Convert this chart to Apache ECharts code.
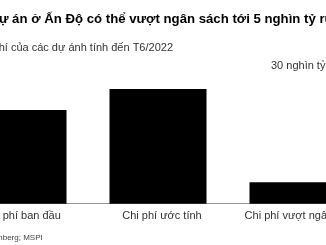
<!DOCTYPE html>
<html>
<head>
<meta charset="utf-8">
<script src="https://cdn.jsdelivr.net/npm/echarts@6/dist/echarts.min.js"></script>
<style>
html,body{margin:0;padding:0;background:#fff;}
#c{width:326px;height:245px;}
</style>
</head>
<body>
<div id="c"></div>
<script>
const titleText = "Các dự án ở Ấn Độ có thể vượt ngân sách tới 5 nghìn tỷ rupee";
const subtitleText = "Chi phí của các dự ánh tính đến T6/2022";
const sourceText = "Nguồn: Bloomberg; MSPI";
const categories = ["Chi phí ban đầu", "Chi phí ước tính", "Chi phí vượt ngân sách"];
const values = [20.4, 25.0, 4.65];
const yTicks = {0: "", 30: "30 nghìn tỷ rupee"};

const FONT = "'Liberation Sans', Arial, sans-serif";
const chart = echarts.init(document.getElementById('c'), null, {renderer: 'canvas'});
chart.setOption({
  animation: false,
  backgroundColor: '#fff',
  title: [
    {text: titleText, left: -42, top: 8, textStyle: {fontFamily: FONT, fontSize: 13.2, fontWeight: 'bold', color: '#000'}},
    {text: subtitleText, left: -32, top: 37, textStyle: {fontFamily: FONT, fontSize: 11, fontWeight: 'normal', color: '#333'}},
    {text: sourceText, left: -53, top: 229, textStyle: {fontFamily: FONT, fontSize: 8, fontWeight: 'normal', color: '#444'}}
  ],
  grid: {left: -52, right: -42, top: 66, bottom: 41.3, containLabel: false, outerBoundsMode: 'none'},
  xAxis: {
    type: 'category',
    data: categories,
    axisLine: {show: true, lineStyle: {color: '#999', width: 1}},
    axisTick: {show: false},
    axisLabel: {fontFamily: FONT, fontSize: 11, color: '#333', margin: 7, interval: 0, padding: [0, 0, 0, 8]}
  },
  yAxis: {
    type: 'value',
    position: 'right',
    min: 0, max: 30, interval: 30,
    splitLine: {show: false},
    axisLine: {show: false},
    axisTick: {show: false},
    axisLabel: {
      inside: true, align: 'left', margin: 97,
      fontFamily: FONT, fontSize: 11, color: '#333',
      formatter: v => yTicks[v] !== undefined ? yTicks[v] : ''
    }
  },
  series: [{
    type: 'bar',
    data: values,
    barWidth: 97,
    itemStyle: {color: '#000'}
  }]
});
</script>
</body>
</html>
